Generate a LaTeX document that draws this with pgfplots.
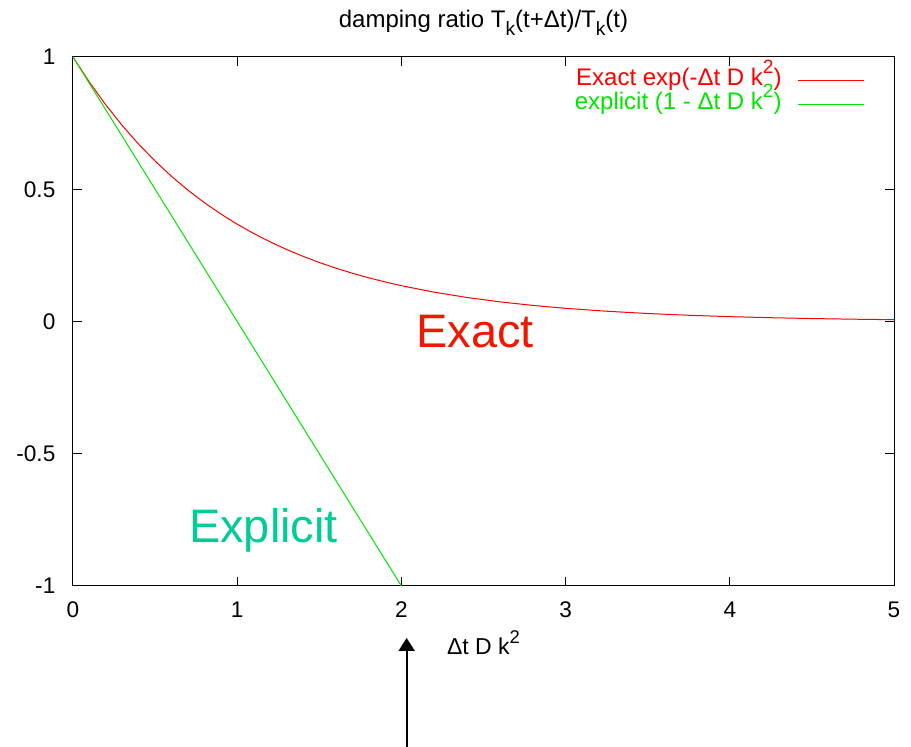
\documentclass[border=0pt]{standalone}
\usepackage{fontspec}
\setmainfont{Liberation Sans}
\usepackage{pgfplots}
\pgfplotsset{compat=1.18}
\usetikzlibrary{arrows.meta}
\definecolor{exactlbl}{RGB}{238,24,0}
\definecolor{explbl}{RGB}{0,204,150}
\definecolor{lgreen}{RGB}{0,230,0}
\newcommand\sups[1]{\raisebox{0.5em}{\scalebox{0.8}{#1}}}
\newcommand\subs[1]{\raisebox{-0.3em}{\scalebox{0.8}{#1}}}
\begin{document}
\begin{tikzpicture}
\begin{axis}[
  name=ax,
  scale only axis,
  width=410.5pt, height=264.5pt,
  xmin=0, xmax=5, ymin=-1, ymax=1,
  xtick={0,1,2,3,4,5},
  xticklabels={0,1,2,3,4,5},
  ytick={-1,-0.5,0,0.5,1},
  yticklabels={-1,-0.5,0,0.5,1},
  tick align=inside,
  major tick length=4.5pt,
  tick style={black, line width=0.5pt},
  axis line style={black, line width=0.5pt},
  tick label style={font=\fontsize{11.3}{13}\selectfont},
  xticklabel style={yshift=-4.3pt},
  yticklabel style={xshift=-5.3pt},
  clip=false,
  legend plot pos=right,
  legend cell align=right,
  legend style={at={(rel axis cs:1,1)}, anchor=north east, xshift=-14.5pt, yshift=-5.5pt,
    draw=none, fill=none, inner sep=0pt, row sep=0pt,
    font=\fontsize{12}{14}\selectfont,
    nodes={text height=8.5pt, text depth=3.5pt, inner sep=0pt},
    /tikz/every odd column/.append style={column sep=8pt}},
  legend image code/.code={\draw[#1] (0pt,0pt) -- (33pt,0pt);},
]
\addplot[red, line width=0.5pt] coordinates {
(0,1) (0.1,0.9048) (0.2,0.8187) (0.3,0.7408) (0.4,0.6703) (0.5,0.6065)
(0.6,0.5488) (0.7,0.4966) (0.8,0.4493) (0.9,0.4066) (1.0,0.3679)
(1.1,0.3329) (1.2,0.3012) (1.3,0.2725) (1.4,0.2466) (1.5,0.2231)
(1.6,0.2019) (1.7,0.1827) (1.8,0.1653) (1.9,0.1496) (2.0,0.1353)
(2.2,0.1108) (2.4,0.0907) (2.6,0.0743) (2.8,0.0608) (3.0,0.0498)
(3.25,0.0388) (3.5,0.0302) (3.75,0.0235) (4.0,0.0183) (4.25,0.0143)
(4.5,0.0111) (4.75,0.0087) (5.0,0.0067)};
\addlegendentry[text=red]{Exact exp(-Δt D k\sups{2})}
\addplot[lgreen, line width=0.5pt] coordinates {(0,1) (2,-1)};
\addlegendentry[text=lgreen]{explicit (1 - Δt D k\sups{2})}

\node[exactlbl, font=\fontsize{23.5}{28}\selectfont, anchor=center] at (axis cs:2.45,-0.038) {Exact};
\node[explbl, font=\fontsize{23.5}{28}\selectfont, anchor=center] at (axis cs:1.16,-0.79) {Explicit};

\node[anchor=base, font=\fontsize{12}{14}\selectfont] at ([yshift=14.5pt]rel axis cs:0.5,1) {damping ratio T\subs{k}(t+Δt)/T\subs{k}(t)};
\node[anchor=base, font=\fontsize{11.5}{13}\selectfont] at ([yshift=-34.5pt]axis cs:2.5,-1) {Δt D k\sups{2}};

\draw[-{Triangle[width=8pt,length=6.5pt]}, line width=1pt, black]
  ([yshift=-81pt]axis cs:2.032,-1) -- ([yshift=-26pt]axis cs:2.032,-1);
\end{axis}
\pgfresetboundingbox
\path ([xshift=-36.5pt,yshift=-80.5pt]ax.south west) rectangle ([xshift=8.5pt,yshift=28.5pt]ax.north east);
\end{tikzpicture}
\end{document}
